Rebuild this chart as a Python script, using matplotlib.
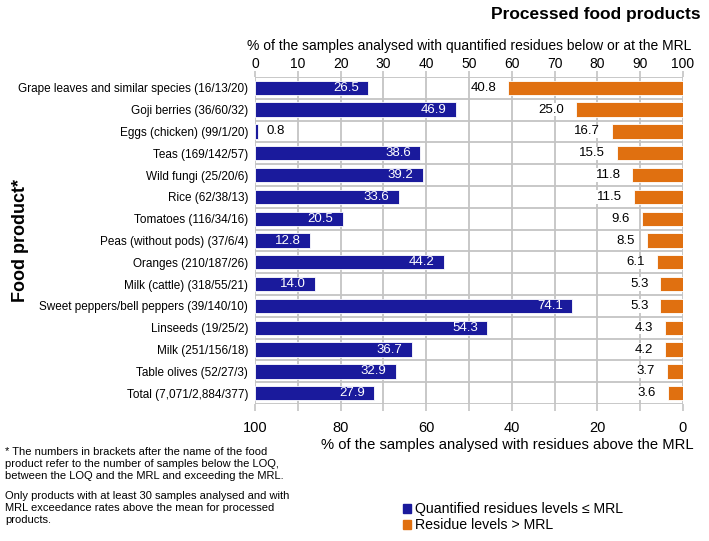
import numpy as np
import matplotlib.pyplot as plt
from matplotlib.patches import Patch
from matplotlib.ticker import MultipleLocator

plt.rcParams["font.family"] = ["Liberation Sans", "DejaVu Sans"]

categories = [
    "Grape leaves and similar species (16/13/20)",
    "Goji berries (36/60/32)",
    "Eggs (chicken) (99/1/20)",
    "Teas (169/142/57)",
    "Wild fungi (25/20/6)",
    "Rice (62/38/13)",
    "Tomatoes (116/34/16)",
    "Peas (without pods) (37/6/4)",
    "Oranges (210/187/26)",
    "Milk (cattle) (318/55/21)",
    "Sweet peppers/bell peppers (39/140/10)",
    "Linseeds (19/25/2)",
    "Milk (251/156/18)",
    "Table olives (52/27/3)",
    "Total (7,071/2,884/377)",
]
below_mrl = [26.5, 46.9, 0.8, 38.6, 39.2, 33.6, 20.5, 12.8, 44.2, 14.0, 74.1, 54.3, 36.7, 32.9, 27.9]
above_mrl = [40.8, 25.0, 16.7, 15.5, 11.8, 11.5, 9.6, 8.5, 6.1, 5.3, 5.3, 4.3, 4.2, 3.7, 3.6]

BLUE = "#1a1a9c"
ORANGE = "#e07010"
GRID = "#c4c4c4"

fig = plt.figure(figsize=(7.09, 5.41), dpi=100)
ax = fig.add_axes([0.3597, 0.2532, 0.6036, 0.6045])
ax2 = ax.twiny()

n = len(categories)
y = np.arange(n)

ax.barh(y, below_mrl, height=0.66, color=BLUE, edgecolor="white", linewidth=0.6, zorder=3)
ax2.barh(y, above_mrl, height=0.66, color=ORANGE, edgecolor="white", linewidth=0.6, zorder=3)

ax.set_xlim(0, 100)
ax2.set_xlim(100, 0)
ax.set_ylim(n - 0.5, -0.5)

# value labels: blue inside the bar end, orange just left of its bar
for i, (b, a) in enumerate(zip(below_mrl, above_mrl)):
    if b >= 5:
        ax.text(b - 2.2, i, f"{b:.1f}", ha="right", va="center", color="white",
                fontsize=9.5, zorder=5)
    else:
        ax.text(b + 1.8, i, f"{b:.1f}", ha="left", va="center", color="black",
                fontsize=9.5, zorder=5)
    ax2.text(a + 2.8, i, f"{a:.1f}", ha="right", va="center", color="black",
             fontsize=9.5, zorder=5,
             bbox=dict(facecolor="white", edgecolor="none", pad=0.5))

# top axis (blue scale)
ax.xaxis.tick_top()
ax.xaxis.set_label_position("top")
ax.set_xticks(np.arange(0, 101, 10))
ax.tick_params(axis="x", labelsize=10, length=4, color=GRID, width=1.2, pad=0)
ax.set_xlabel("% of the samples analysed with quantified residues below or at the MRL",
              fontsize=10, labelpad=5)

# bottom axis (orange scale)
ax2.xaxis.tick_bottom()
ax2.set_xticks(np.arange(0, 101, 20))
ax2.xaxis.set_minor_locator(MultipleLocator(10))
ax2.tick_params(axis="x", which="both", length=5, color=GRID, width=1.2, pad=7)
ax2.tick_params(axis="x", which="major", labelsize=10.5)

ax.set_yticks(y)
ax.set_yticklabels(categories, fontsize=8.5)
ax.tick_params(axis="y", length=0, pad=5)

# grid: vertical at every 10, horizontal between rows
for xv in np.arange(0, 101, 10):
    ax.axvline(xv, color=GRID, lw=1.3, zorder=1)
for yb in np.arange(-0.5, n, 1.0):
    ax.axhline(yb, color=GRID, lw=1.3, zorder=1)
for sp in list(ax.spines.values()) + list(ax2.spines.values()):
    sp.set_visible(False)

fig.text(0.029, 0.555, "Food product*", rotation=90, fontsize=13, fontweight="bold",
         ha="center", va="center")
fig.text(0.988, 0.974, "Processed food products", fontsize=12.5, fontweight="bold",
         ha="right", va="center")
fig.text(0.978, 0.177, "% of the samples analysed with residues above the MRL",
         fontsize=10.6, ha="right", va="center")

fig.text(0.007, 0.173,
         "* The numbers in brackets after the name of the food\n"
         "product refer to the number of samples below the LOQ,\n"
         "between the LOQ and the MRL and exceeding the MRL.",
         fontsize=8, ha="left", va="top", linespacing=1.25)
fig.text(0.007, 0.093,
         "Only products with at least 30 samples analysed and with\n"
         "MRL exceedance rates above the mean for processed\n"
         "products.",
         fontsize=8, ha="left", va="top", linespacing=1.25)

handles = [Patch(color=BLUE, label="Quantified residues levels \u2264 MRL"),
           Patch(color=ORANGE, label="Residue levels > MRL")]
fig.legend(handles=handles, loc="upper left", bbox_to_anchor=(0.568, 0.072),
           frameon=False, fontsize=10.2, handlelength=0.6, handleheight=0.6,
           handletextpad=0.3, labelspacing=0.15, borderaxespad=0, borderpad=0)

fig.savefig("out.png", dpi=100)
